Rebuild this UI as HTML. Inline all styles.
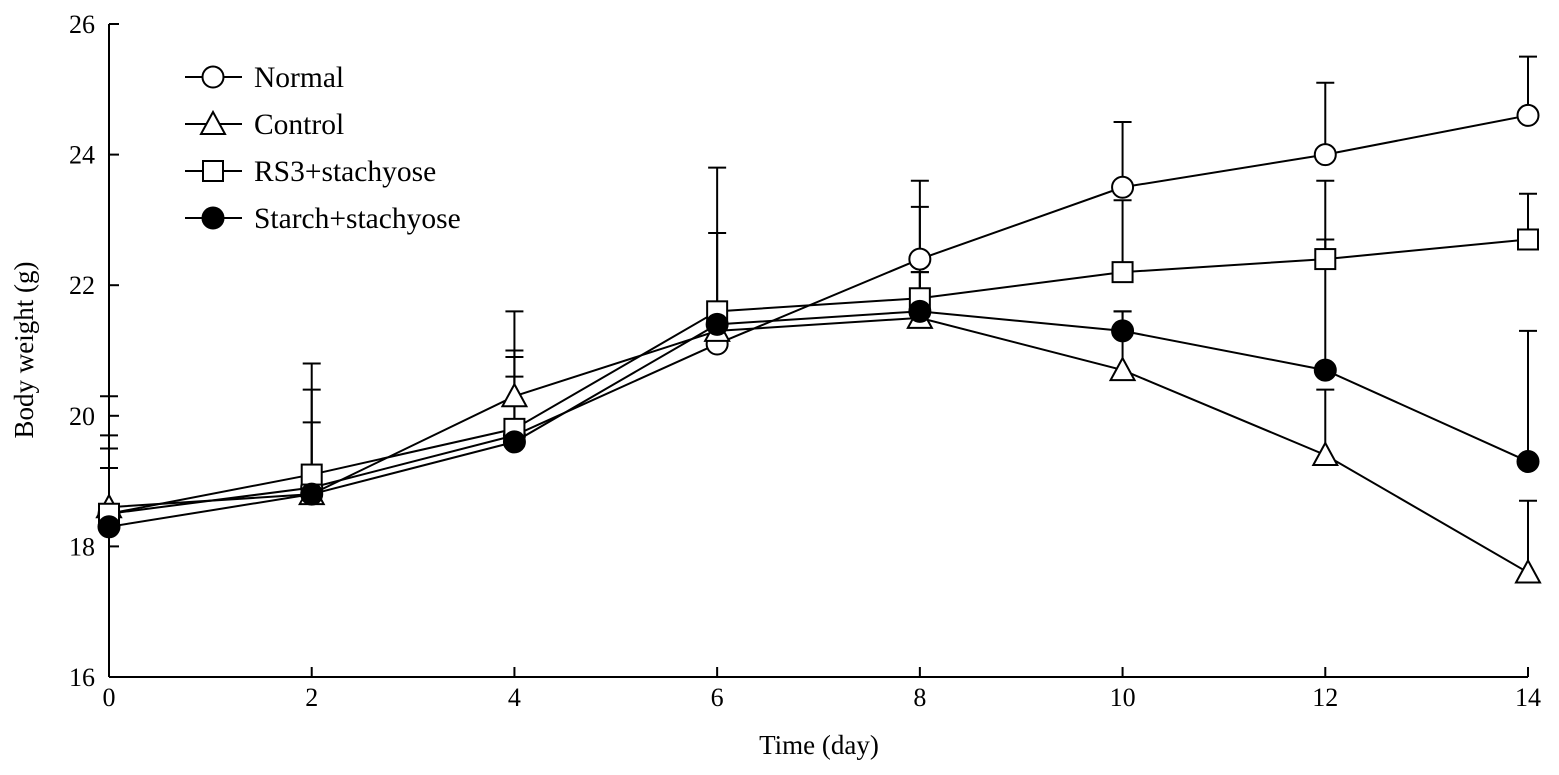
<!DOCTYPE html>
<html><head><meta charset="utf-8"><style>
html,body{margin:0;padding:0;background:#fff;}
svg{display:block;font-family:"Liberation Serif",serif;}
</style></head><body>
<svg id="chart" width="1559" height="775" xmlns="http://www.w3.org/2000/svg"></svg>
<script>
const days = [0,2,4,6,8,10,12,14];
const normalVals = [18.5,18.9,19.7,21.1,22.4,23.5,24.0,24.6];
const normalErr  = [19.5,19.9,20.6,22.8,23.6,24.5,25.1,25.5];
const controlVals = [18.6,18.8,20.3,21.3,21.5,20.7,19.4,17.6];
const controlErr  = [20.3,20.4,21.6,21.3,22.2,21.6,20.4,18.7];
const rs3Vals = [18.5,19.1,19.8,21.6,21.8,22.2,22.4,22.7];
const rs3Err  = [19.7,20.8,21.0,23.8,23.2,23.3,23.6,23.4];
const starchVals = [18.3,18.8,19.6,21.4,21.6,21.3,20.7,19.3];
const starchErr  = [19.2,18.8,20.9,21.4,22.2,21.6,22.7,21.3];
const yTicks = [16,18,20,22,24,26];
const xTicks = [0,2,4,6,8,10,12,14];
const seriesNames = ["Normal","Control","RS3+stachyose","Starch+stachyose"];

const svg = document.getElementById('chart');
const NS = 'http://www.w3.org/2000/svg';
const X0=109, X1=1528, Y0=677, Y1=24;
const xs = d => X0 + (d-0)/(14-0)*(X1-X0);
const ys = v => Y0 - (v-16)/(26-16)*(Y0-Y1);
function mk(tag, attrs, parent){const e=document.createElementNS(NS,tag);for(const k in attrs)e.setAttribute(k,attrs[k]);(parent||svg).appendChild(e);return e;}

const axes = mk('g',{});


mk('line',{x1:X0,y1:Y1,x2:X0,y2:Y0,stroke:'#000','stroke-width':2},axes);
mk('line',{x1:X0,y1:Y0,x2:X1,y2:Y0,stroke:'#000','stroke-width':2},axes);
yTicks.forEach(t=>{
  mk('line',{x1:X0,y1:ys(t),x2:X0+10,y2:ys(t),stroke:'#000','stroke-width':2},axes);
  const tx=mk('text',{x:X0-14,y:ys(t)+9,'text-anchor':'end','font-size':26},axes);
  tx.textContent=t;
  
  
});
xTicks.forEach(t=>{
  mk('line',{x1:xs(t),y1:Y0,x2:xs(t),y2:Y0-10,stroke:'#000','stroke-width':2},axes);
  const tx=mk('text',{x:xs(t),y:Y0+29,'text-anchor':'middle','font-size':26},axes);
  tx.textContent=t;
  
  
});
const xt=mk('text',{x:819,y:754,'text-anchor':'middle','font-size':27});
xt.textContent='Time (day)';


const yt=mk('text',{x:33,y:350,'text-anchor':'middle','font-size':27,transform:'rotate(-90 33 350)'});
yt.textContent='Body weight (g)';



function marker(g,type,cx,cy){
  if(type==='circle') mk('circle',{cx:cx,cy:cy,r:10.5,fill:'#fff',stroke:'#000','stroke-width':2},g);
  else if(type==='dot') mk('circle',{cx:cx,cy:cy,r:11,fill:'#000',stroke:'#000','stroke-width':1},g);
  else if(type==='square') mk('rect',{x:cx-10,y:cy-10,width:20,height:20,fill:'#fff',stroke:'#000','stroke-width':2},g);
  else if(type==='tri') mk('polygon',{points:`${cx},${cy-12} ${cx+12},${cy+10} ${cx-12},${cy+10}`,fill:'#fff',stroke:'#000','stroke-width':2},g);
}
const series=[
  {name:'normal',vals:normalVals,err:normalErr,type:'circle'},
  {name:'control',vals:controlVals,err:controlErr,type:'tri'},
  {name:'rs3-stachyose',vals:rs3Vals,err:rs3Err,type:'square'},
  {name:'starch-stachyose',vals:starchVals,err:starchErr,type:'dot'}
];
series.forEach(s=>{
  const g=mk('g',{});
  
  
  days.forEach((d,i)=>{
    if(s.err[i]<=s.vals[i])return;
    mk('line',{x1:xs(d),y1:ys(s.vals[i]),x2:xs(d),y2:ys(s.err[i]),stroke:'#000','stroke-width':2},g);
    mk('line',{x1:xs(d)-9,y1:ys(s.err[i]),x2:xs(d)+9,y2:ys(s.err[i]),stroke:'#000','stroke-width':2},g);
  });
});
series.forEach(s=>{
  const g=mk('g',{});
  
  
  mk('polyline',{points:days.map((d,i)=>xs(d)+','+ys(s.vals[i])).join(' '),fill:'none',stroke:'#000','stroke-width':2},g);
});
series.forEach(s=>{
  const g=mk('g',{});
  
  
  days.forEach((d,i)=>marker(g,s.type,xs(d),ys(s.vals[i])));
});
const lg=mk('g',{});


series.forEach((s,i)=>{
  const y=77+i*47;
  const e=mk('g',{},lg);
  
  
  mk('line',{x1:185,y1:y,x2:242,y2:y,stroke:'#000','stroke-width':2},e);
  marker(e,s.type,213,y);
  const t=mk('text',{x:254,y:y+10,'font-size':29.5},e);
  t.textContent=seriesNames[i];
});
</script>
</body></html>
